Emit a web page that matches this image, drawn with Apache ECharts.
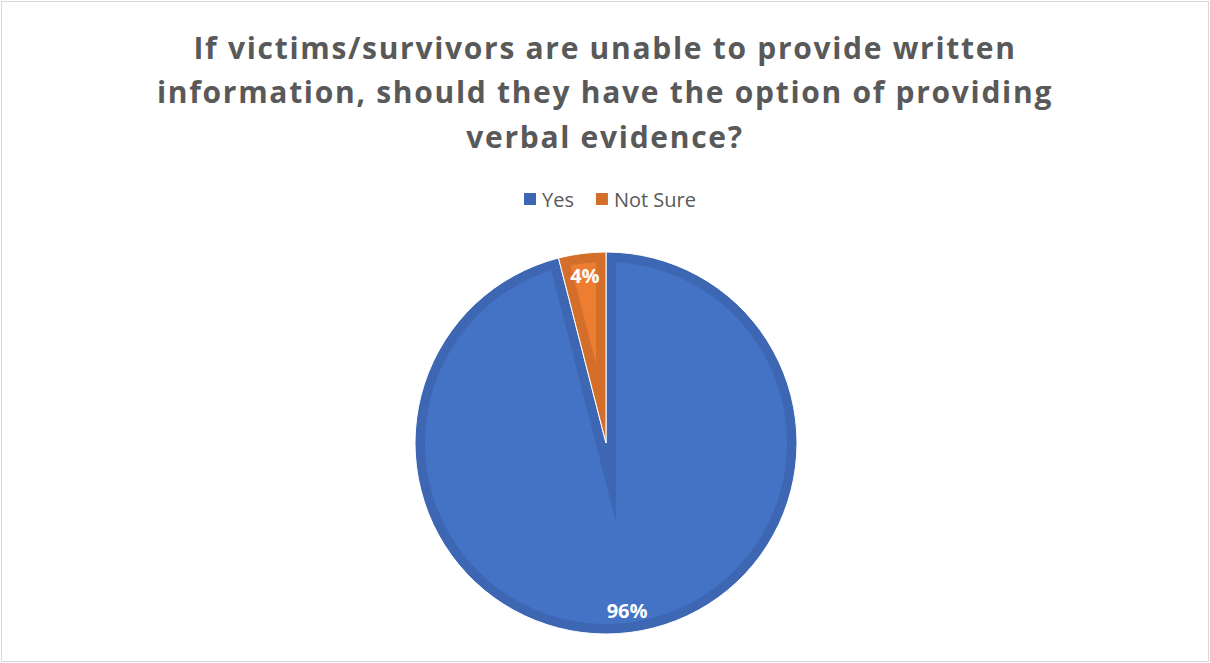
<!DOCTYPE html>
<html>
<head>
<meta charset="utf-8">
<script src="https://cdn.jsdelivr.net/npm/echarts@6/dist/echarts.min.js"></script>
<style>
  html, body { margin: 0; padding: 0; background: #ffffff; }
  #frame { position: absolute; left: 1px; top: 1px; width: 1206px; height: 659px; border: 1px solid #d9d9d9; }
  #chart { position: absolute; left: 0; top: 0; width: 1210px; height: 663px; }
  /* the heading is set with a little extra tracking */
  #chart text[style*="30px"], #chart text[font-size="30"], #chart text[font-size="30px"] { letter-spacing: 1.7px; }
</style>
</head>
<body>
<div id="frame"></div>
<div id="chart"></div>
<script>
// Survey answers (percent of respondents)
const categories = ['Yes', 'Not Sure'];
const values = [96, 4];

// Slice fills and their darker edge bands
const fillColors = ['#4472C4', '#ED7D31'];
const edgeColors = ['#3E67B3', '#D46F2B'];

const titleText = 'If victims/survivors are unable to provide written\ninformation, should they have the option of providing\nverbal evidence?';

const CX = 606, CY = 443, R = 191, BAND = 10;

const total = values.reduce((a, b) => a + b, 0);

// Lighter inner face of each slice, inset by BAND from every edge
function renderFace(params, api) {
  const i = params.dataIndex;
  let before = 0;
  for (let k = 0; k < i; k++) before += values[k];
  const s = before / total * Math.PI * 2;
  const e = (before + values[i]) / total * Math.PI * 2;
  const ri = R - BAND;
  const delta = Math.asin(BAND / ri);
  const pts = [];
  const a0 = s + delta, a1 = e - delta;
  const steps = Math.max(2, Math.ceil((a1 - a0) / 0.01));
  for (let n = 0; n <= steps; n++) {
    const a = a0 + (a1 - a0) * n / steps;
    pts.push([CX + ri * Math.sin(a), CY - ri * Math.cos(a)]);
  }
  const half = (e - s) / 2;
  const t = BAND / Math.sin(half);
  const mid = (s + e) / 2;
  pts.push([CX + t * Math.sin(mid), CY - t * Math.cos(mid)]);
  return {
    type: 'polygon',
    shape: { points: pts },
    style: { fill: fillColors[i] },
    silent: true
  };
}

const chart = echarts.init(document.getElementById('chart'), null, { renderer: 'svg' });

chart.setOption({
  animation: false,
  backgroundColor: 'transparent',
  title: {
    text: titleText,
    left: 'center',
    top: 20,
    textStyle: {
      fontFamily: 'Open Sans',
      fontWeight: 'bold',
      fontSize: 30,
      lineHeight: 44.5,
      color: '#595959'
    }
  },
  legend: {
    data: categories,
    top: 184,
    left: 517,
    itemWidth: 14,
    itemHeight: 14,
    itemGap: 20,
    icon: 'rect',
    textStyle: { fontFamily: 'Open Sans', fontSize: 20, color: '#595959' }
  },
  series: [
    {
      name: 'Answers',
      type: 'pie',
      center: [CX, CY],
      radius: [0, R],
      startAngle: 90,
      clockwise: true,
      label: { show: false },
      labelLine: { show: false },
      emphasis: { disabled: true },
      itemStyle: { borderColor: '#ffffff', borderWidth: 1 },
      data: categories.map((c, i) => ({ name: c, value: values[i], itemStyle: { color: edgeColors[i] } })),
      z: 2
    },
    {
      name: 'Faces',
      type: 'custom',
      coordinateSystem: 'none',
      renderItem: renderFace,
      data: values.map(v => [v]),
      silent: true,
      z: 3
    },
    {
      name: 'Percent labels',
      type: 'pie',
      center: [CX, CY],
      radius: [140, R],
      startAngle: 90,
      clockwise: true,
      silent: true,
      emphasis: { disabled: true },
      itemStyle: { color: 'rgba(0,0,0,0)', borderWidth: 0 },
      label: {
        show: true,
        position: 'inside',
        formatter: p => p.value + '%',
        fontFamily: 'Open Sans',
        fontWeight: 'bold',
        fontSize: 20,
        color: '#ffffff'
      },
      labelLine: { show: false },
      legendHoverLink: false,
      data: categories.map((c, i) => ({ name: c + ' ', value: values[i] })),
      z: 4
    }
  ]
});
</script>
</body>
</html>
